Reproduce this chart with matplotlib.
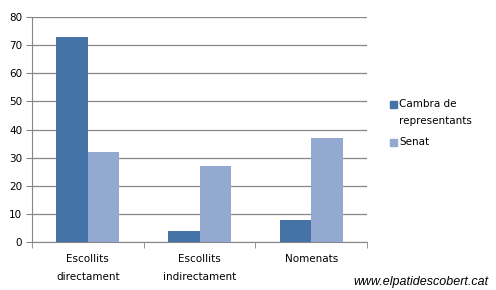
import numpy as np
import matplotlib.pyplot as plt
from matplotlib.patches import Rectangle

categories = ["Escollits\ndirectament", "Escollits\nindirectament", "Nomenats"]
cambra = [73, 4, 8]
senat = [32, 27, 37]
series_names = ["Cambra de\nrepresentants", "Senat"]
yticks = [0, 10, 20, 30, 40, 50, 60, 70, 80]

dark = "#4572A7"
light = "#93A9CF"
grid_c = "#868686"

plt.rcParams['font.family'] = ['DejaVu Sans']

fig = plt.figure(figsize=(4.96, 2.9), dpi=100)
ax = fig.add_axes([32/496, 1-242/290, (367-32)/496, (242-17)/290])

x = np.arange(len(categories))
w = 0.283
ax.bar(x - w/2, cambra, w, color=dark, zorder=3)
ax.bar(x + w/2, senat, w, color=light, zorder=3)

ax.set_xlim(-0.5, 2.5)
ax.set_ylim(0, 80)
ax.set_yticks(yticks)
ax.set_yticklabels([str(v) for v in yticks], fontsize=7.5)
ax.yaxis.grid(True, color=grid_c, linewidth=0.9, zorder=0)
ax.set_xticks(x)
ax.set_xticklabels(categories, fontsize=7.5, linespacing=2.0)
ax.tick_params(axis='x', length=0, pad=9)
ax.set_xticks([-0.5, 0.5, 1.5, 2.5], minor=True)
ax.tick_params(axis='x', which='minor', length=4, color=grid_c, direction='out')
ax.tick_params(axis='y', length=4, color=grid_c, direction='out', pad=3)
for s in ['top', 'right']:
    ax.spines[s].set_visible(False)
for s in ['left', 'bottom']:
    ax.spines[s].set_color(grid_c)

# legend drawn by hand so the swatch sits on the first text line
legend_rows = [(101, dark, series_names[0]), (139, light, series_names[1])]
for ytop, col, name in legend_rows:
    fig.patches.append(Rectangle((390/496, 1-(ytop+7)/290), 7/496, 7/290,
                                 transform=fig.transFigure, color=col))
    fig.text(399/496, 1-(ytop-2)/290, name, ha='left', va='top',
             fontsize=7.5, linespacing=1.9)

fig.text(488/496, 1-282/290, "www.elpatidescobert.cat", ha='right', va='center',
         fontsize=9, style='italic', family='Liberation Sans')

fig.savefig("out.png", dpi=100)
